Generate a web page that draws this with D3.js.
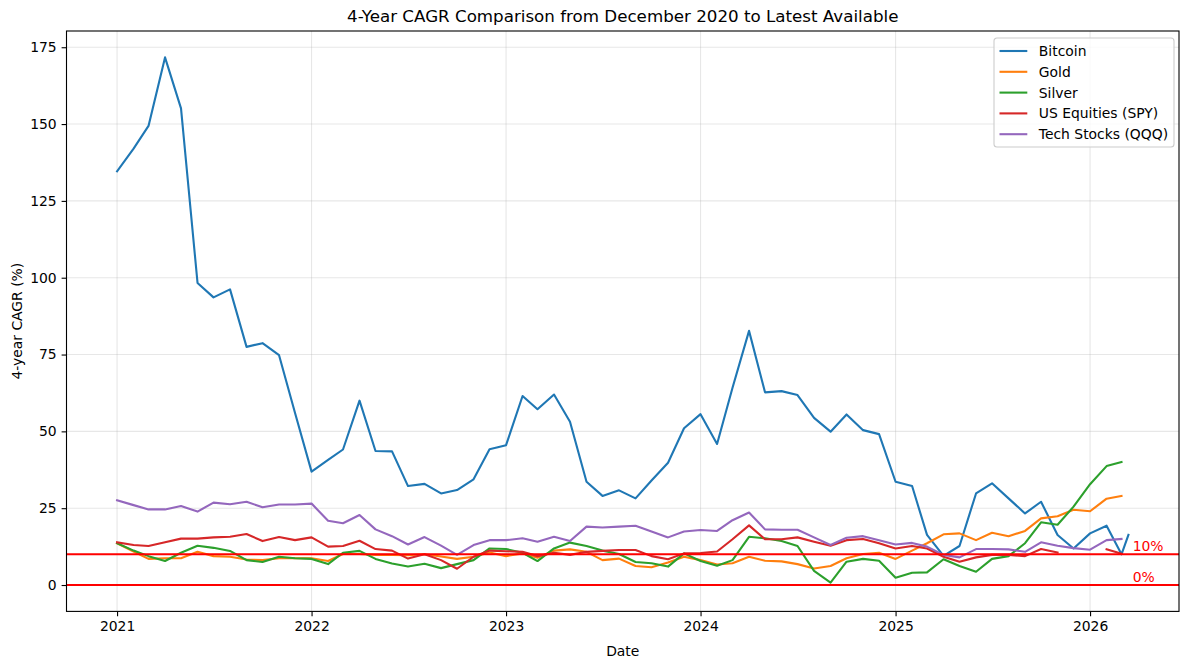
<!DOCTYPE html>
<html>
<head>
<meta charset="utf-8">
<script src="https://cdn.jsdelivr.net/npm/d3@7"></script>
<style>
  body { margin: 0; background: #fff; }
  svg { display: block; font-family: "DejaVu Sans", sans-serif; }
</style>
</head>
<body>
<div id="chart"></div>
<script>
// monthly observations, Jan 2021 .. Mar 2026 (63 months)
const startMonth = '2021-01-01';
const monthCount = 63;
// Bitcoin has one extra, latest-available point
const btcLatestDate = '2026-03-14';

const bitcoin = [134.6, 142.0, 149.4, 171.7, 155.1, 98.3, 93.6, 96.2, 77.5, 78.7, 74.8, 56.0,
  36.9, 40.7, 44.1, 60.0, 43.6, 43.5, 32.2, 32.9, 29.8, 30.9, 34.4, 44.2,
  45.5, 61.5, 57.2, 62.0, 53.1, 33.6, 29.0, 30.8, 28.2, 34.0, 39.8, 51.0,
  55.6, 45.9, 64.2, 82.7, 62.7, 63.1, 61.8, 54.4, 49.9, 55.5, 50.4, 49.1,
  33.6, 32.2, 16.3, 9.5, 12.7, 29.8, 33.1, 28.2, 23.3, 27.1, 16.3, 11.9,
  16.8, 19.3, 10.0, 16.3];
const gold = [13.6, 10.9, 8.5, 8.7, 8.7, 10.8, 9.4, 9.2, 8.3, 8.1, 8.7, 8.7,
  8.7, 7.8, 10.1, 10.1, 9.8, 9.8, 9.7, 10.0, 9.3, 8.5, 9.2, 10.6,
  9.4, 10.3, 8.9, 11.2, 11.6, 10.8, 8.1, 8.6, 6.2, 5.8, 7.3, 9.2,
  8.1, 6.7, 7.1, 9.2, 7.9, 7.7, 6.8, 5.4, 6.2, 8.7, 10.1, 10.5,
  8.5, 11.2, 13.6, 16.5, 16.8, 14.6, 17.0, 15.9, 17.6, 21.7, 22.4, 24.5,
  24.0, 28.1, 29.0];
const silver = [13.6, 11.2, 9.4, 7.8, 10.5, 12.8, 12.1, 11.1, 8.1, 7.5, 9.2, 8.7,
  8.5, 6.8, 10.5, 11.1, 8.5, 7.0, 6.0, 6.9, 5.5, 6.8, 8.1, 11.9,
  11.7, 10.5, 7.8, 11.9, 13.8, 12.7, 11.2, 10.1, 7.5, 7.1, 6.0, 10.3,
  7.8, 6.3, 8.1, 15.7, 15.2, 14.3, 12.7, 4.6, 0.8, 7.6, 8.5, 7.9,
  2.4, 4.0, 4.1, 8.4, 6.2, 4.3, 8.5, 9.4, 13.6, 20.4, 19.6, 25.5,
  32.8, 38.7, 40.0];
const spy = [13.9, 13.0, 12.7, 13.9, 15.1, 15.1, 15.5, 15.7, 16.6, 14.3, 15.6, 14.6,
  15.5, 12.5, 12.7, 14.4, 11.7, 11.2, 8.6, 10.0, 8.1, 5.3, 9.2, 11.2,
  11.0, 10.8, 9.4, 10.5, 9.8, 10.8, 11.1, 11.4, 11.4, 9.4, 8.4, 10.3,
  10.4, 10.9, 14.9, 19.4, 14.9, 14.9, 15.5, 14.1, 12.8, 14.6, 15.0, 13.6,
  11.9, 12.7, 11.9, 9.2, 7.6, 9.0, 9.8, 9.8, 9.4, 11.7, 10.6, null,
  null, 11.6, 10.2];
const qqq = [27.6, 26.0, 24.6, 24.6, 25.7, 23.9, 26.8, 26.3, 27.1, 25.3, 26.2, 26.2,
  26.5, 20.9, 20.1, 22.8, 18.1, 15.9, 13.2, 15.6, 12.8, 9.8, 13.0, 14.6,
  14.6, 15.2, 14.1, 15.7, 14.3, 19.0, 18.7, 19.0, 19.3, 17.4, 15.5, 17.4,
  17.9, 17.6, 21.1, 23.6, 18.1, 18.0, 18.0, 15.5, 13.0, 15.4, 15.9, 14.6,
  13.2, 13.7, 12.5, 9.8, 9.0, 11.7, 11.7, 11.6, 10.8, 13.9, 12.8, 12.0,
  11.5, 14.6, 15.0];

const seriesNames = ['Bitcoin', 'Gold', 'Silver', 'US Equities (SPY)', 'Tech Stocks (QQQ)'];
const seriesColors = ['#1f77b4', '#ff7f0e', '#2ca02c', '#d62728', '#9467bd'];
const refLevels = [10, 0];
const refLabels = ['10%', '0%'];
const xTickYears = [2021, 2022, 2023, 2024, 2025, 2026];
const yTicks = [0, 25, 50, 75, 100, 125, 150, 175];

const width = 1189;
const height = 669;
const margin = {top: 31, right: 10, bottom: 57.6, left: 66.5};
const innerW = width - margin.left - margin.right;
const innerH = height - margin.top - margin.bottom;

const months = d3.utcMonth.range(new Date(startMonth),
    d3.utcMonth.offset(new Date(startMonth), monthCount));
const btcDates = months.concat([new Date(btcLatestDate)]);

const allSeries = [bitcoin, gold, silver, spy, qqq].map((vals, i) => ({
  name: seriesNames[i],
  color: seriesColors[i],
  points: vals.map((v, j) => ({date: i == 0 ? btcDates[j] : months[j], value: v})),
}));

// matplotlib style 5% padding
const tMin = +months[0];
const tMax = +btcDates[btcDates.length - 1];
const tPad = (tMax - tMin) * 0.05;
const vals = allSeries.flatMap((s) => s.points.map((p) => p.value))
    .filter((v) => v != null).concat(refLevels);
const vMin = d3.min(vals);
const vMax = d3.max(vals);
const vPad = (vMax - vMin) * 0.05;

const x = d3.scaleUtc().domain([new Date(tMin - tPad), new Date(tMax + tPad)])
    .range([0, innerW]);
const y = d3.scaleLinear().domain([vMin - vPad, vMax + vPad]).range([innerH, 0]);

const svg = d3.select('#chart').append('svg')
    .attr('width', width)
    .attr('height', height);
svg.append('rect').attr('width', width).attr('height', height).attr('fill', '#fff');

const g = svg.append('g')
    .attr('transform', 'translate(' + margin.left + ',' + margin.top + ')');

// grid
const xTickDates = xTickYears.map((yr) => new Date(Date.UTC(yr, 0, 1)));
g.append('g').selectAll('line').data(xTickDates).enter().append('line')
    .attr('x1', (d) => x(d)).attr('x2', (d) => x(d))
    .attr('y1', 0).attr('y2', innerH)
    .attr('stroke', '#b0b0b0').attr('stroke-opacity', 0.3).attr('stroke-width', 1.1);
g.append('g').selectAll('line').data(yTicks).enter().append('line')
    .attr('x1', 0).attr('x2', innerW)
    .attr('y1', (d) => y(d)).attr('y2', (d) => y(d))
    .attr('stroke', '#b0b0b0').attr('stroke-opacity', 0.3).attr('stroke-width', 1.1);

const line = d3.line()
    .defined((d) => d.value != null)
    .x((d) => x(d.date))
    .y((d) => y(d.value));

g.append('g').selectAll('path').data(allSeries).enter().append('path')
    .attr('fill', 'none')
    .attr('stroke', (d) => d.color)
    .attr('stroke-width', 2.1)
    .attr('stroke-linejoin', 'round')
    .attr('stroke-linecap', 'square')
    .attr('d', (d) => line(d.points));

// reference lines
g.append('g').selectAll('line').data(refLevels).enter().append('line')
    .attr('x1', 0).attr('x2', innerW)
    .attr('y1', (d) => y(d)).attr('y2', (d) => y(d))
    .attr('stroke', '#ff0000').attr('stroke-width', 2.1);

const labelDate = new Date(Date.UTC(2026, 2, 22));
g.append('g').selectAll('text').data(refLevels).enter().append('text')
    .attr('x', x(labelDate))
    .attr('y', (d) => y(d) - 3)
    .attr('fill', '#ff0000')
    .attr('font-size', 13.9)
    .text((d, i) => refLabels[i]);

// axes
const xAxis = g.append('g').attr('transform', 'translate(0,' + innerH + ')')
    .call(d3.axisBottom(x).tickValues(xTickDates)
        .tickFormat(d3.utcFormat('%Y')).tickSize(4.9).tickPadding(4.9));
const yAxis = g.append('g')
    .call(d3.axisLeft(y).tickValues(yTicks).tickSize(4.9).tickPadding(4.9));
[xAxis, yAxis].forEach((ax) => {
  ax.select('.domain').remove();
  ax.selectAll('text').attr('font-size', 13.9).attr('fill', '#000')
      .attr('font-family', '"DejaVu Sans", sans-serif');
  ax.selectAll('line').attr('stroke', '#000').attr('stroke-width', 1.1);
});

g.append('rect').attr('width', innerW).attr('height', innerH)
    .attr('fill', 'none').attr('stroke', '#000').attr('stroke-width', 1.1);

// legend
const lg = g.append('g').attr('transform', 'translate(' + (994 - margin.left) + ',' + (38 - margin.top) + ')');
lg.append('rect').attr('width', 180).attr('height', 109).attr('rx', 3)
    .attr('fill', '#fff').attr('fill-opacity', 0.8)
    .attr('stroke', '#cccccc').attr('stroke-width', 1.1);
const rows = lg.selectAll('g.row').data(allSeries).enter().append('g')
    .attr('class', 'row')
    .attr('transform', (d, i) => 'translate(0,' + (13 + i * 20.8) + ')');
rows.append('line').attr('x1', 5.5).attr('x2', 33.3)
    .attr('stroke', (d) => d.color).attr('stroke-width', 2.1);
rows.append('text').attr('x', 44.8).attr('dy', '0.36em')
    .attr('font-size', 13.9).text((d) => d.name);

// titles
svg.append('text').attr('x', margin.left + innerW / 2).attr('y', 22)
    .attr('text-anchor', 'middle').attr('font-size', 16.7)
    .text('4-Year CAGR Comparison from December 2020 to Latest Available');
svg.append('text').attr('x', margin.left + innerW / 2).attr('y', 656)
    .attr('text-anchor', 'middle').attr('font-size', 13.9).text('Date');
svg.append('text')
    .attr('transform', 'translate(22,' + (margin.top + innerH / 2) + ') rotate(-90)')
    .attr('text-anchor', 'middle').attr('font-size', 13.9).text('4-year CAGR (%)');
</script>
</body>
</html>
